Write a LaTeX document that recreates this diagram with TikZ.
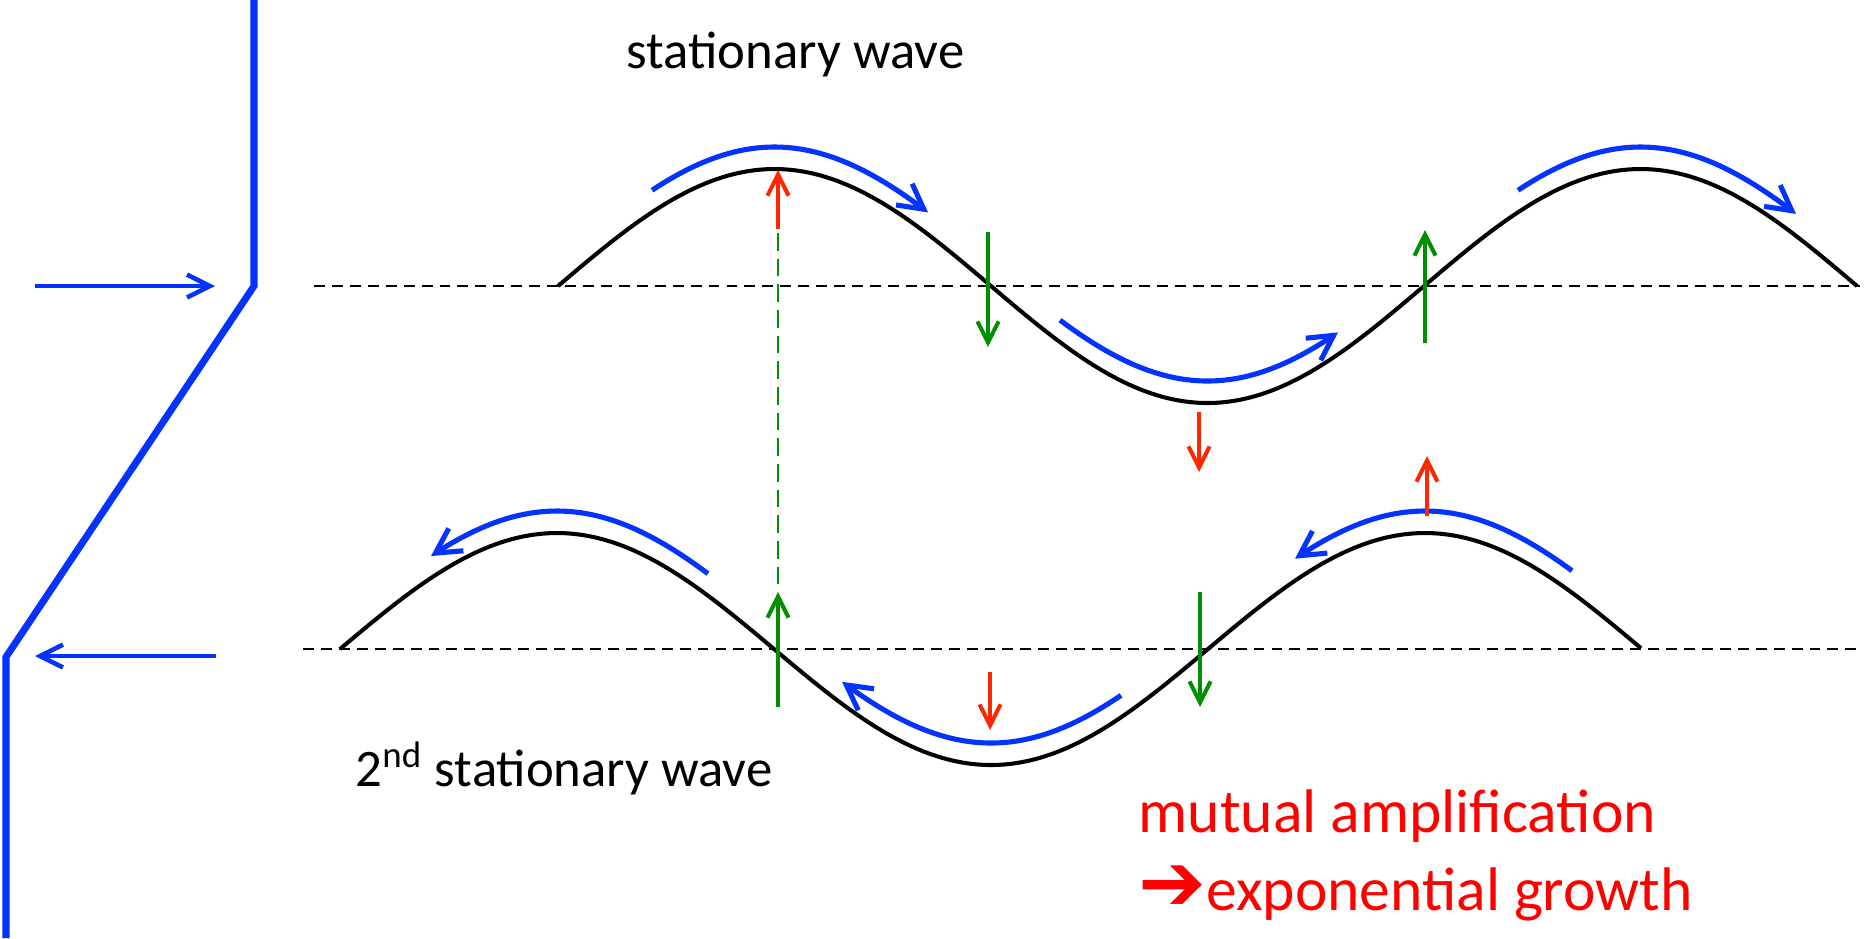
\documentclass[tikz,border=0pt]{standalone}
\usepackage{fontspec}
\setmainfont{Carlito}
\newfontfamily\arrowfont{DejaVu Sans}
\usetikzlibrary{arrows.meta,positioning}

\definecolor{mirrorblue}{RGB}{4,51,255}
\definecolor{nodegreen}{RGB}{0,143,0}
\definecolor{pushred}{RGB}{255,38,0}

\tikzset{
  wave/.style={line width=1.15pt},
  axisline/.style={line width=0.6pt, dash pattern=on 3.1pt off 2pt},
  mirror/.style={mirrorblue, line width=2pt},
  beam/.style={mirrorblue, line width=1.3pt, -{Straight Barb[length=6.5pt,width=6.5pt]}},
  travel/.style={mirrorblue, line width=1.45pt, -{Straight Barb[length=7pt,width=7.6pt]}},
  backtravel/.style={mirrorblue, line width=1.45pt, {Straight Barb[length=7pt,width=7.6pt]}-},
  swing/.style={nodegreen, line width=1.15pt, -{Straight Barb[length=6pt,width=6pt]}},
  push/.style={pushred, line width=1.15pt, -{Straight Barb[length=6pt,width=6pt]}},
  label text/.style={inner sep=0pt, font=\fontsize{15}{18}\selectfont},
  note text/.style={inner sep=0pt, red, font=\fontsize{17.5}{21}\selectfont},
  declare function={upper(\x)=286-117*sin((\x-558)*0.4157);
                    lower(\x)=649-116*sin((\x-340)*0.41475);}
}

\begin{document}
\begin{tikzpicture}[x=0.01cm, y=-0.01cm]
\useasboundingbox (0,0) rectangle (1864,938);

% mirror and the two beams
\coordinate (mirrorTop) at (254,0);
\coordinate (mirrorKnee) at (254,286);
\coordinate (mirrorFoot) at (6,657);
\coordinate (mirrorEnd) at (6,938);
\draw[mirror] (mirrorTop) -- (mirrorKnee) -- (mirrorFoot) -- (mirrorEnd);
\coordinate (inStart) at (35,286);
\coordinate (inEnd) at (215,286);
\coordinate (outStart) at (216,656);
\coordinate (outEnd) at (35,656);
\draw[beam] (inStart) -- (inEnd);
\draw[beam] (outStart) -- (outEnd);

% axes and waves
\draw[axisline] (314,286) -- (1860,286);
\draw[axisline] (303,649) -- (1860,649);
\draw[wave] plot[domain=558:1857, samples=150, smooth] (\x,{upper(\x)});
\draw[wave] plot[domain=340:1641, samples=150, smooth] (\x,{lower(\x)});

% travelling parts
\foreach \a/\b in {652/928, 1060/1338, 1518/1796}
  \draw[travel] plot[domain=\a:\b, samples=40, smooth] (\x,{upper(\x)-22});
\foreach \a/\b in {431/708, 842/1121, 1295/1572}
  \draw[backtravel] plot[domain=\a:\b, samples=40, smooth] (\x,{lower(\x)-22});

% node motion and growth
\draw[nodegreen, line width=0.6pt, dash pattern=on 5pt off 2.3pt] (778,233) -- (778,585);
\foreach \px/\pa/\pb in {988/232/347, 1425/343/230, 778/707/592, 1200/592/707}
  \draw[swing] (\px,\pa) -- (\px,\pb);
\foreach \px/\pa/\pb in {778/229/170, 1199/412/472, 990/672/730, 1427/516/456}
  \draw[push] (\px,\pa) -- (\px,\pb);

% labels
\node[label text, anchor=base west] (firstwave) at (626,68) {stationary wave};
\node[label text, anchor=base west] (secondwave) at (355,786) {2\textsuperscript{nd} stationary wave};
\node[note text, anchor=base west] (amplify) at (1138,832) {mutual amplification};
\node[note text, anchor=base west] (growth) at ([yshift=-0.78cm]amplify.base west) {{\arrowfont\fontsize{23}{21}\selectfont ➔}exponential growth};
\end{tikzpicture}
\end{document}
